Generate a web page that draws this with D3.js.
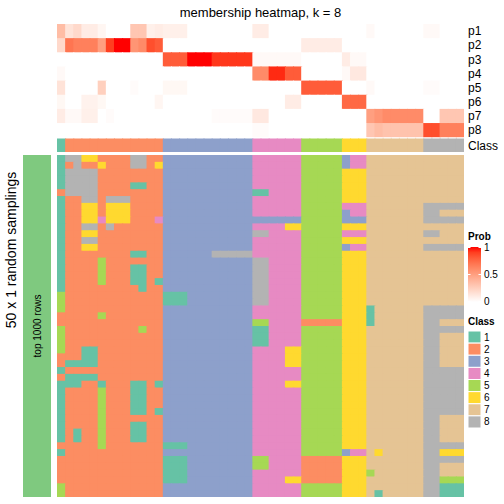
<!DOCTYPE html>
<html><head><meta charset="utf-8">
<script src="https://cdn.jsdelivr.net/npm/d3@7"></script>
<style>body{margin:0;background:#fff}svg{display:block;font-family:"Liberation Sans",Arial,sans-serif}</style>
</head><body><svg id="c" width="504" height="504"></svg>
<script>
// ---- data ----
const title = "membership heatmap, k = 8";
const classes = ["1","2","3","4","5","6","7","8"];
const classColors = ["#66C2A5","#FC8D62","#8DA0CB","#E78AC3","#A6D854","#FFD92F","#E5C494","#B3B3B3"];
const probLabels = ["p1","p2","p3","p4","p5","p6","p7","p8"];
// column class (top annotation)
const columnClass = "1 222222222222 33333333333 444444 55555 666 7777777 88888";
// membership probabilities per column
const p1 = [.35,.15,.2,.1,.1,.05,0,0,0,.3,.3,.08,.1, .08,.08,.08,0,0,0,0,0,0,0,0, .1,.1,0,0,0,0, 0,0,0,0,0, 0,0,0, .03,0,0,0,0,0,0, .03,.03,0,0,0];
const p2 = [.2,.7,.65,.65,.65,.5,.9,1,1,.55,.6,.85,.8, 0,0,0,0,0,0,0,0,0,0,0, 0,0,0,0,0,0, .1,.1,.1,.1,.1, 0,0,0, 0,0,0,0,0,0,0, 0,0,0,0,0];
const p3 = [0,0,0,0,0,0,0,0,0,0,0,0,0, .8,.8,.8,1,1,1,.92,.92,.92,.92,.92, .03,.03,.03,.03,.03,.03, 0,0,0,0,0, .1,.03,.03, 0,0,0,0,0,0,0, 0,0,0,0,0];
const p4 = [.03,0,0,0,0,0,0,0,0,0,0,0,0, 0,0,0,0,0,0,0,0,0,0,0, .6,.6,.95,.95,.8,.8, 0,0,0,0,0, .03,.12,.12, 0,0,0,0,0,0,0, 0,0,0,0,0];
const p5 = [.15,0,0,0,0,.25,0,0,0,.02,0,0,0, .04,.04,.04,0,0,0,0,0,0,0,0, 0,0,0,0,0,0, .8,.8,.8,.8,.8, 0,0,0, .03,0,0,0,0,0,0, .02,.02,0,0,0];
const p6 = [.04,0,0,.07,.07,.04,0,0,0,0,0,0,.05, 0,0,0,0,0,0,0,0,0,0,0, 0,0,0,0,.1,.1, 0,0,0,0,0, .75,.75,.75, 0,0,0,0,0,0,0, 0,0,0,0,0];
const p7 = [.1,.03,.03,.08,.08,0,.02,0,0,0,0,0,0, 0,0,0,0,0,0,.02,.02,.02,.02,.02, .12,.12,0,0,0,0, 0,0,0,0,0, 0,0,0, .5,.55,.6,.6,.6,.6,.6, 0,0,.3,.3,.3];
const p8 = [0,0,0,0,0,0,0,0,0,0,0,0,0, 0,0,0,0,0,0,0,0,0,0,0, .02,.02,0,0,0,0, 0,0,0,0,0, 0,0,0, .3,.35,.32,.32,.32,.32,.32, .85,.85,.65,.65,.65];
// class assigned in each of the 50 random samplings (rows) for each column
const samplings = [
"1 886622228822 33333333333 444444 55555 344 7777777 77777",
"1 282262228826 33333333333 444444 55555 344 7777777 77777",
"1 888822222222 33333333333 444444 55555 666 7777777 77777",
"1 888822222222 33333333333 444444 55555 666 7777777 77777",
"1 888822221122 33333333333 444444 55555 666 7777777 77777",
"2 888822222222 33333333333 114444 55555 666 7777777 77777",
"1 228828882222 33333333333 444444 55555 666 7777777 77777",
"1 226626662222 33333333333 444444 55555 444 7777777 88888",
"1 226626662222 33333333333 444444 55555 344 7777777 88777",
"1 226646662224 33333333333 333333 55555 333 7777777 88888",
"1 228828222222 33333333333 444466 55555 666 7777777 77777",
"1 226622222222 33333333333 884444 55555 444 7777777 88777",
"1 228822222222 33333333333 444444 55555 666 7777777 77777",
"1 226622222222 33333333333 444444 55555 344 7777777 88888",
"1 222222221122 33333388888 444444 55555 666 7777777 77777",
"1 222252222222 33333333333 884444 55555 666 7777777 77777",
"1 222252221122 33333333333 884444 55555 666 7777777 77777",
"1 222252221122 33333333333 884444 55555 666 7777777 77777",
"1 222252221121 33333333333 884444 55555 666 7777777 77777",
"1 222222222122 33333333333 884444 55555 666 7777777 77777",
"5 222222222222 11133333333 884444 55555 666 7777777 77777",
"5 222222222222 11133333333 884444 55555 666 7777777 77777",
"5 222222222222 33333333333 444444 55555 666 1777777 88888",
"2 222252222222 33333333333 444444 55555 666 1777777 88888",
"2 222222222222 33333333333 554444 22222 666 1777777 88777",
"5 222222222522 33333333333 114444 55555 666 7777777 88888",
"5 222222222222 33333333333 114444 55555 666 7777777 88777",
"5 222222222222 33333333333 114444 55555 666 7777777 88777",
"5 221122222222 33333333333 444466 55555 666 7777777 88777",
"2 221122222222 33333333333 444466 55555 666 7777777 88777",
"2 111122222222 33333333333 444466 55555 666 7777777 88777",
"1 222222222222 33333333333 444444 55555 666 7777777 88888",
"2 111122222222 33333333333 444444 55555 666 7777777 88888",
"1 112212221121 33333333333 444466 55555 666 7777777 88888",
"1 222252221122 33333333333 444444 55555 666 7777777 88888",
"1 222252221122 33333333333 444444 55555 666 7777777 88888",
"1 222252221122 33333333333 444444 55555 666 7777777 88888",
"1 222252221121 33333333333 444444 55555 666 7777777 88888",
"1 222252222222 33333333333 444444 55555 666 7777777 88777",
"1 222252221122 33333333333 444444 55555 666 7777777 88777",
"1 212252221122 33333333333 444444 55555 666 7777777 88777",
"1 212252221122 33333333333 444444 55555 666 7777777 88777",
"2 222252222222 11133333333 444444 55555 666 7777777 88888",
"1 222222222222 33333333333 444444 55555 344 7677777 88666",
"2 222222222222 11133333333 554444 22222 666 7777777 88888",
"2 222222222222 11133333333 554444 22222 666 7777777 88777",
"2 222222222222 11133333333 444444 22222 666 5777777 88777",
"2 222222222222 11133333333 444466 22222 666 7777777 88555",
"5 222222222222 33333333333 444444 55555 666 7777777 88111",
"5 222222222222 33333333333 444444 55555 666 7177777 88111"
];
const probTicks = [0, 0.5, 1];
const rowAnnoLabel = "top 1000 rows";
const sideLabel = "50 x 1 random samplings";

// ---- drawing ----
const svg = d3.select("#c");
const probs = [p1,p2,p3,p4,p5,p6,p7,p8];
const colCls = columnClass.replace(/ /g,"").split("");
const grid = samplings.map(s => s.replace(/ /g,"").split(""));
const nCol = colCls.length, nRow = grid.length;

const x = d3.scaleBand().domain(d3.range(nCol)).range([57, 464]);
const yP = d3.scaleBand().domain(probLabels).range([24, 137.2]);
const yM = d3.scaleBand().domain(d3.range(nRow)).range([155, 497]);
const clsColor = d3.scaleOrdinal().domain(classes).range(classColors);
const probColor = d3.scaleLinear().domain([0,1]).range(["#ffffff","#ff0000"]).interpolate(d3.interpolateLab);

const lastCol = nCol - 1;
const wOf = j => x.bandwidth() + (j < lastCol ? 1 : 0); // overlap next cell to avoid seams
// prob rows
probs.forEach((arr, i) => {
  svg.append("g").selectAll("rect").data(arr).join("rect")
    .attr("x", (d,j) => x(j)).attr("y", yP(probLabels[i]))
    .attr("width", (d,j) => wOf(j)).attr("height", yP.bandwidth() + (i < 7 ? 1 : 0))
    .attr("fill", d => probColor(d));
});
// class row
svg.append("g").selectAll("rect").data(colCls).join("rect")
  .attr("x", (d,j) => x(j)).attr("y", 138.5)
  .attr("width", (d,j) => wOf(j)).attr("height", 13.5)
  .attr("fill", d => clsColor(d));
// row labels
svg.append("g").selectAll("text").data(probLabels).join("text")
  .attr("x", 468).attr("y", d => yP(d)+yP.bandwidth()/2).attr("dy","0.35em")
  .attr("font-size", 12).text(d => d);
svg.append("text").attr("x",468).attr("y",145.5).attr("dy","0.35em").attr("font-size",12).text("Class");

// main heatmap
grid.forEach((row, r) => {
  svg.append("g").selectAll("rect").data(row).join("rect")
    .attr("x", (d,j) => x(j)).attr("y", yM(r))
    .attr("width", (d,j) => wOf(j)).attr("height", yM.bandwidth() + (r < nRow-1 ? 1 : 0))
    .attr("fill", d => clsColor(d));
});

// left annotation
svg.append("rect").attr("x",23).attr("y",155).attr("width",28).attr("height",342).attr("fill","#7FC97F");
svg.append("text").attr("transform","translate(40.5,326) rotate(-90)").attr("text-anchor","middle")
  .attr("font-size",10).text(rowAnnoLabel);
svg.append("text").attr("transform","translate(16,250) rotate(-90)").attr("text-anchor","middle")
  .attr("font-size",14).text(sideLabel);

// title
svg.append("text").attr("x",260.5).attr("y",17).attr("text-anchor","middle").attr("font-size",13).text(title);

// Prob legend
const lg = svg.append("g");
lg.append("text").attr("x",468).attr("y",240).attr("font-size",10).attr("font-weight","bold").text("Prob");
const defs = svg.append("defs");
const grad = defs.append("linearGradient").attr("id","pg").attr("x1",0).attr("y1",1).attr("x2",0).attr("y2",0);
d3.range(0,1.001,0.1).forEach(t => grad.append("stop").attr("offset", t).attr("stop-color", probColor(t)));
const yL = d3.scaleLinear().domain([0,1]).range([301.5, 247.5]);
lg.append("rect").attr("x",468).attr("y",247).attr("width",13).attr("height",55).attr("fill","url(#pg)");
lg.selectAll("line.t").data(probTicks).join("line")
  .attr("x1",468).attr("x2",470.5).attr("y1",d=>yL(d)).attr("y2",d=>yL(d)).attr("stroke","#fff");
lg.selectAll("line.t2").data(probTicks).join("line")
  .attr("x1",478.5).attr("x2",481).attr("y1",d=>yL(d)).attr("y2",d=>yL(d)).attr("stroke","#fff");
lg.selectAll("text.t").data(probTicks).join("text")
  .attr("x",484).attr("y",d=>yL(d)).attr("dy","0.35em").attr("font-size",10).text(d => d);

// Class legend
svg.append("text").attr("x",468).attr("y",324.5).attr("font-size",10).attr("font-weight","bold").text("Class");
const yC = d3.scaleBand().domain(classes).range([331, 428]);
svg.append("g").selectAll("rect").data(classes).join("rect")
  .attr("x",468).attr("y",d=>yC(d)).attr("width",13).attr("height",yC.bandwidth())
  .attr("fill",d=>clsColor(d)).attr("stroke","#fff").attr("stroke-width",1);
svg.append("g").selectAll("text").data(classes).join("text")
  .attr("x",484).attr("y",d=>yC(d)+yC.bandwidth()/2).attr("dy","0.35em").attr("font-size",10).text(d=>d);
</script></body></html>
